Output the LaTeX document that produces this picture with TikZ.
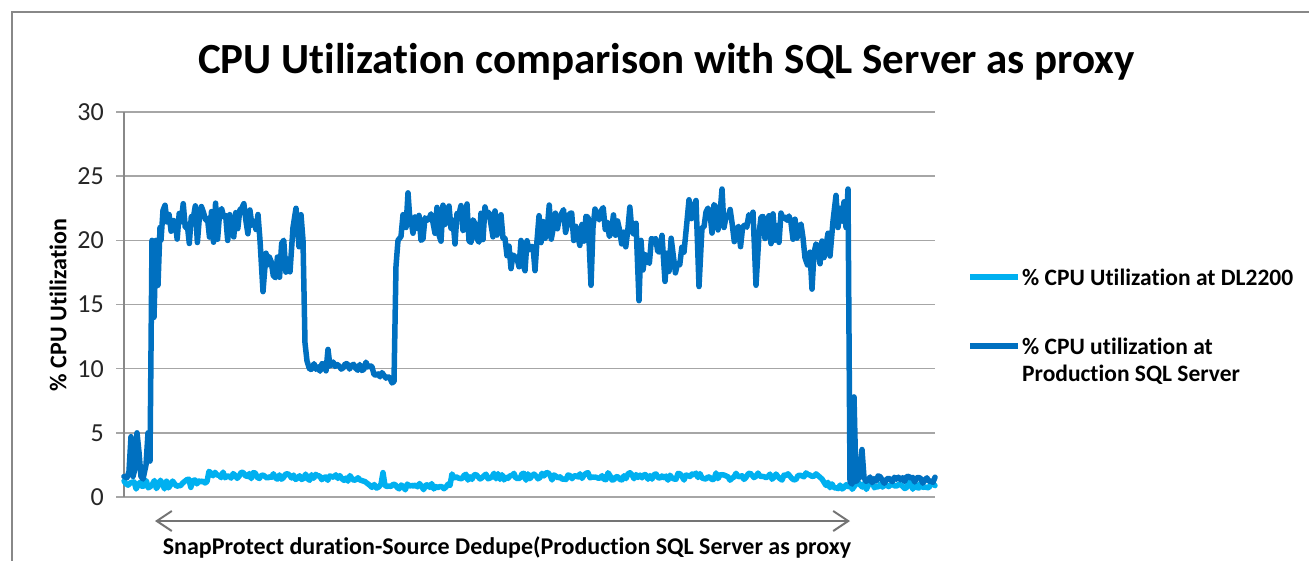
\documentclass[tikz,border=0pt]{standalone}
\usepackage{fontspec}
\setmainfont[Ligatures=NoCommon]{Carlito}
\usetikzlibrary{arrows.meta}
\definecolor{lightser}{HTML}{00B0F0}
\definecolor{darkser}{HTML}{0070C0}
\definecolor{gridc}{HTML}{A6A6A6}
\definecolor{framec}{HTML}{888888}
\definecolor{txtc}{HTML}{262626}
\tikzset{
  gridline/.style={draw=gridc, line width=1.5pt},
  seriesL/.style={draw=lightser, line width=5.5pt, line join=round, line cap=round},
  seriesD/.style={draw=darkser, line width=5.5pt, line join=round, line cap=round},
  ticklab/.style={anchor=east, inner sep=0pt, font=\fontsize{26}{28}\selectfont, text=txtc},
  legtext/.style={anchor=west, inner sep=0pt, font=\fontsize{23.5}{27}\selectfont\bfseries, text=black},
  durarrow/.style={draw=framec!85!black, line width=2pt, {Straight Barb[length=15pt,width=20pt,line width=2pt]}-{Straight Barb[length=15pt,width=20pt,line width=2pt]}}
}
\begin{document}
\begin{tikzpicture}[x=1pt,y=-1pt]
\useasboundingbox (0,0) rectangle (1309,560);
\clip (0,0) rectangle (1309,560);
\fill[white] (0,0) rectangle (1309,560);
% frame
\draw[framec, line width=2.5pt] (12,600) -- (12,12) -- (1340,12);
% title
\node[anchor=base, inner sep=0pt, font=\fontsize{43}{46}\selectfont\bfseries] (title) at (666.5,73) {CPU Utilization comparison with SQL Server as proxy};
% gridlines and ticks
\foreach \v/\yy in {0/497,5/432.8,10/368.7,15/304.5,20/240.3,25/176.2,30/112}{
  \draw[gridline] (116,\yy) -- (935,\yy);
  \node[ticklab] (t\v) at (104,\yy) {\v};
}
\draw[draw=framec, line width=1.5pt] (124,112) -- (124,497);
% y label
\node[rotate=90, inner sep=0pt, font=\fontsize{24}{26}\selectfont\bfseries] (ylab) at (58,305) {\% CPU Utilization};
% data
\pgfmathsetseed{4242}
\begin{scope}[shift={(0,497)}, y=12.8333pt]
\draw[seriesL] plot[domain=124:205, samples=41] (\x,{1.0+0.4*rand}) -- (207,1.2) -- (209,2.0)
  -- plot[domain=211:360,samples=75] (\x,{1.75-0.002*(\x-211)+0.25*rand}) -- (365,1.2) -- (370,0.9)
  -- plot[domain=372:381,samples=5](\x,{0.85+0.2*rand}) -- (383,1.9) -- (385,0.9)
  -- plot[domain=387:448,samples=31](\x,{0.8+0.25*rand}) -- (450,0.9) -- (452,1.8)
  -- plot[domain=454:818,samples=183](\x,{1.6+0.3*rand}) -- (822,1.4) -- (826,0.9)
  -- plot[domain=828:935,samples=54](\x,{0.85+0.3*rand});
\draw[seriesD] (124,1.6) -- (127,1.5) -- (129,2) -- (131,4.7) -- (133,1.6) -- (135,2.2) -- (137,5) -- (139,3.5) -- (141,1.6) -- (143,1.4) -- (146,2.5) -- (148,5) -- (150,2.8) -- (152,20) -- (154,14) -- (156,20) -- (158,16.5) -- (160,21)
  -- plot[domain=161:258, samples=49] (\x,{21.3+1.6*rand})
  -- (260,20) -- (263,16) -- (266,19)
  -- plot[domain=267:290,samples=12] (\x,{18.5+1.6*rand}) -- (293,21) -- (296,22.5) -- (299,19.5) -- (301,22) -- (303,20) -- (305,12) -- (307,10.6) -- (309,10.1)
  -- plot[domain=310:326,samples=9] (\x,{10.1+0.35*rand}) -- (328,11.5) -- (330,10.2)
  -- plot[domain=331:368,samples=19](\x,{10.2+0.35*rand})
  -- plot[domain=370:392, samples=12] (\x,{10-0.05*(\x-370)+0.3*rand}) -- (394,9) -- (396,18) -- (398,20) -- (401,20.3) -- (403,22) -- (406,21) -- (408,23.7) -- (410,21.5)
  -- plot[domain=411:503,samples=47] (\x,{21.3+1.6*rand})
  -- plot[domain=505:535,samples=16] (\x,{18.7+1.5*rand})
  -- plot[domain=537:588,samples=26] (\x,{21.2+1.6*rand}) -- (591,16.5) -- (593,21)
  -- plot[domain=595:636,samples=21](\x,{21+1.6*rand}) -- (639,15.3) -- (641,20)
  -- plot[domain=643:662,samples=10] (\x,{19+1.5*rand}) -- (665,16.8) -- (667,19)
  -- plot[domain=669:684,samples=8] (\x,{18.8+1.4*rand}) -- (687,21.5)
  -- plot[domain=689:696,samples=4] (\x,{22+1.2*rand}) -- (699,16.4) -- (702,21)
  -- plot[domain=704:720,samples=9] (\x,{21.5+1.5*rand}) -- (722,24) -- (724,21)
  -- plot[domain=726:753,samples=14] (\x,{21+1.5*rand}) -- (756,16.5) -- (759,20.5)
  -- plot[domain=761:803,samples=22] (\x,{21+1.3*rand})
  -- plot[domain=805:810,samples=3] (\x,{18.5+1*rand}) -- (812,16.2) -- (814,19)
  -- plot[domain=816:830,samples=8] (\x,{18.8+0.05*(\x-816)*1.5+1.2*rand})
  -- (833,21.5) -- (836,23.5) -- (838,21) -- (840,22.5) -- (842,21.5) -- (844,23) -- (846,21) -- (848,24) -- (850,1.2) -- (852,1.0) -- (854,7.8) -- (856,1.2) -- (859,1.5) -- (862,3.7) -- (864,1.5)
  -- plot[domain=866:935,samples=35](\x,{1.35+0.3*rand});
\end{scope}
% legend
\draw[seriesL, line cap=butt] (970,277) -- (1018,277);
\node[legtext] (leg1) at (1022,277) {\% CPU Utilization at DL2200};
\draw[seriesD, line cap=butt] (970,346) -- (1018,346);
\node[legtext, anchor=north west, align=left] (leg2) at (1022,338) {\% CPU utilization at\\Production SQL Server};
% duration arrow
\coordinate (arL) at (155,521);
\coordinate (arR) at (850,521);
\draw[durarrow] (arL) -- (arR);
\node[anchor=base, inner sep=0pt, font=\fontsize{24}{26}\selectfont\bfseries] (xlab) at (507,554) {SnapProtect duration-Source Dedupe(Production SQL Server as proxy};
\end{tikzpicture}
\end{document}
